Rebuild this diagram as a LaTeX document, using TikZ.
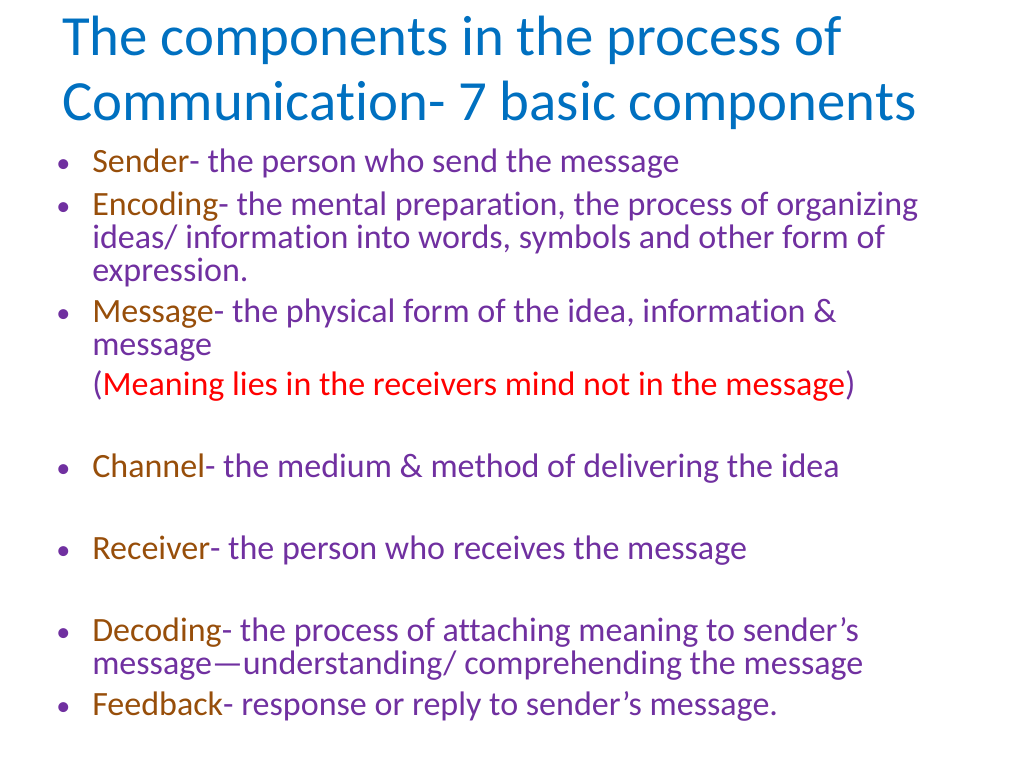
\documentclass[tikz,border=0pt]{standalone}
\usepackage{fontspec}
\setmainfont{Carlito}[RawFeature=-liga]
\definecolor{titleblue}{RGB}{0,112,192}
\definecolor{bodypurple}{RGB}{112,48,160}
\definecolor{keybrown}{RGB}{151,78,10}
\definecolor{notered}{RGB}{255,0,0}
\tikzset{
  titleline/.style={anchor=base west, inner sep=0pt, text=titleblue, font=\fontsize{40.4}{48}\selectfont},
  bodyline/.style={anchor=base west, inner sep=0pt, text=bodypurple, font=\fontsize{24.2}{29}\selectfont},
  bulletmark/.style={anchor=base west, inner sep=0pt, text=bodypurple, font=\fontsize{20}{24}\selectfont},
}
\newcommand{\kw}[1]{\textcolor{keybrown}{#1}}
\begin{document}
\begin{tikzpicture}[x=0.025cm, y=-0.025cm]
    \useasboundingbox (0,0) rectangle (1024,768);
    % title
    \node[titleline] (title1) at (62,56) {The components in the process of};
    \node[titleline] (title2) at (62,121) {Communication- 7 basic components};
    % bullets
    \foreach \yb/\nm in {173/bs, 215/be, 322/bm, 477/bc, 559/br, 641/bd, 715/bf}
        \node[bulletmark] (\nm) at (56,\yb) {•};
    % sender
    \node[bodyline] (sender) at (92,173) {\kw{Sender}- the person who send the message};
    % encoding
    \node[bodyline] (enc1) at (92,215) {\kw{Encoding}- the mental preparation, the process of organizing};
    \node[bodyline] (enc2) at (92,248) {ideas/ information into words, symbols and other form of};
    \node[bodyline] (enc3) at (92,281) {expression.};
    % message
    \node[bodyline] (msg1) at (92,322) {\kw{Message}- the physical form of the idea, information \&};
    \node[bodyline] (msg2) at (92,355) {message};
    \node[bodyline] (msg3) at (92,395) {(\textcolor{notered}{Meaning lies in the receivers mind not in the message})};
    % channel
    \node[bodyline] (chan) at (92,477) {\kw{Channel}- the medium \& method of delivering the idea};
    % receiver
    \node[bodyline] (recv) at (92,559) {\kw{Receiver}- the person who receives the message};
    % decoding
    \node[bodyline] (dec1) at (92,641) {\kw{Decoding}- the process of attaching meaning to sender’s};
    \node[bodyline] (dec2) at (92,674) {message—understanding/ comprehending the message};
    % feedback
    \node[bodyline] (feed) at (92,715) {\kw{Feedback}- response or reply to sender’s message.};
\end{tikzpicture}
\end{document}
